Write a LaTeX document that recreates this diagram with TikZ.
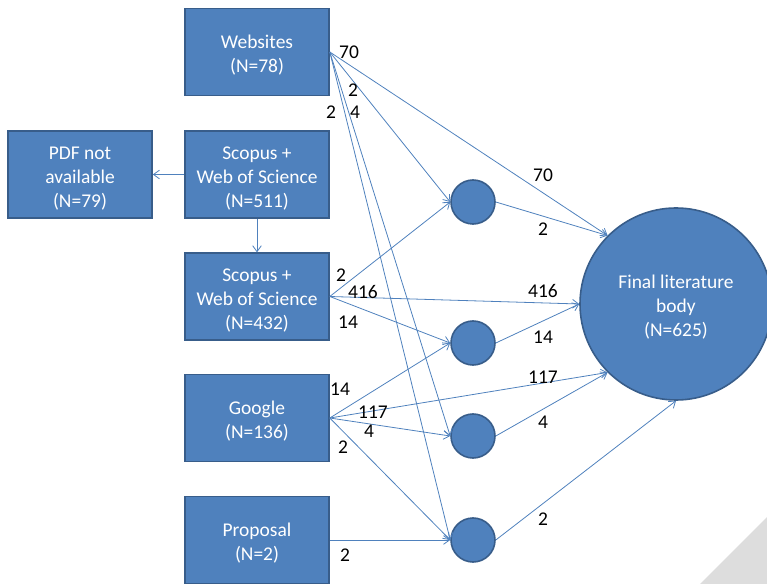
\documentclass[tikz,border=0pt]{standalone}
\usepackage{fontspec}
\setmainfont{Carlito}
\usetikzlibrary{arrows.meta}
\definecolor{boxfill}{HTML}{4F81BD}
\definecolor{boxline}{HTML}{385D8A}
\definecolor{arrowcol}{HTML}{4F81BD}
\definecolor{cornergray}{HTML}{DDDDDD}
\newcommand{\topstrut}{\rule{0pt}{15.5pt}}
\begin{document}
\begin{tikzpicture}[x=0.75pt,y=-0.75pt,
  box/.style={rectangle, fill=boxfill, draw=boxline, line width=1.2pt, minimum width=108pt, minimum height=65pt, inner sep=0pt, text=white, align=center, font=\fontsize{14.6}{18}\selectfont},
  dot/.style={circle, fill=boxfill, draw=boxline, line width=1.2pt, minimum size=33pt, inner sep=0pt},
  big/.style={circle, fill=boxfill, draw=boxline, line width=1.2pt, minimum size=144pt, inner sep=0pt, text=white, align=center, font=\fontsize{14.6}{18}\selectfont},
  conn/.style={draw=arrowcol, line width=0.6pt, -{Straight Barb[length=4.5pt,width=6.5pt]}},
  num/.style={font=\fontsize{14.6}{18}\selectfont, inner sep=0pt, text=black}]
\useasboundingbox (0,0) rectangle (767,584);
\fill[cornergray] (700,584) -- (767,517) -- (767,584) -- cycle;

% boxes
\node[box] (web)  at (257,52)    {\topstrut Websites\\(N=78)};
\node[box] (s511) at (257,174.5) {\topstrut Scopus +\\Web of Science\\(N=511)};
\node[box] (pdf)  at (80,174.5)  {\topstrut PDF not\\available\\(N=79)};
\node[box] (s432) at (257,296.5) {\topstrut Scopus +\\Web of Science\\(N=432)};
\node[box] (goo)  at (257,418)   {\topstrut Google\\(N=136)};
\node[box] (prop) at (257,540)   {\topstrut Proposal\\(N=2)};

% circles
\node[dot] (c1) at (473,202) {};
\node[dot] (c2) at (473,343) {};
\node[dot] (c3) at (473,436) {};
\node[dot] (c4) at (473,540) {};
\node[big] (fin) at (676,304) {\topstrut Final literature\\body\\(N=625)};

% connectors
\draw[conn] (s511.west) -- (pdf.east);
\draw[conn] (s511.south) -- (s432.north);

\draw[conn] (web.east) -- (fin.north west);
\draw[conn] (web.east) -- (c1.west);
\draw[conn] (web.east) -- (c3.west);
\draw[conn] (web.east) -- (c4.west);

\draw[conn] (s432.east) -- (c1.west);
\draw[conn] (s432.east) -- (fin.west);
\draw[conn] (s432.east) -- (c2.west);

\draw[conn] (goo.east) -- (c2.west);
\draw[conn] (goo.east) -- (fin.south west);
\draw[conn] (goo.east) -- (c3.west);
\draw[conn] (goo.east) -- (c4.west);

\draw[conn] (prop.east) -- (c4.west);

\draw[conn] (c1.east) -- (fin.north west);
\draw[conn] (c2.east) -- (fin.west);
\draw[conn] (c3.east) -- (fin.south west);
\draw[conn] (c4.east) -- (fin.south);

% labels
\node[num] (lw70)  at (349,52)  {70};
\node[num] (lw2a)  at (353,90)  {2};
\node[num] (lw2b)  at (331,112) {2};
\node[num] (lw4)   at (355,112) {4};
\node[num] (lf70)  at (543,175) {70};
\node[num] (lf2a)  at (543,229) {2};
\node[num] (ls2)   at (341,275) {2};
\node[num] (ls416) at (363,292) {416};
\node[num] (ls14)  at (348,322) {14};
\node[num] (lf416) at (543,291) {416};
\node[num] (lf14)  at (543,337) {14};
\node[num] (lf117) at (543,377) {117};
\node[num] (lf4)   at (543,422) {4};
\node[num] (lf2b)  at (543,519) {2};
\node[num] (lg14)  at (340,389) {14};
\node[num] (lg117) at (373,412) {117};
\node[num] (lg4)   at (369,431) {4};
\node[num] (lg2)   at (343,447) {2};
\node[num] (lp2)   at (345,555) {2};
\end{tikzpicture}
\end{document}
